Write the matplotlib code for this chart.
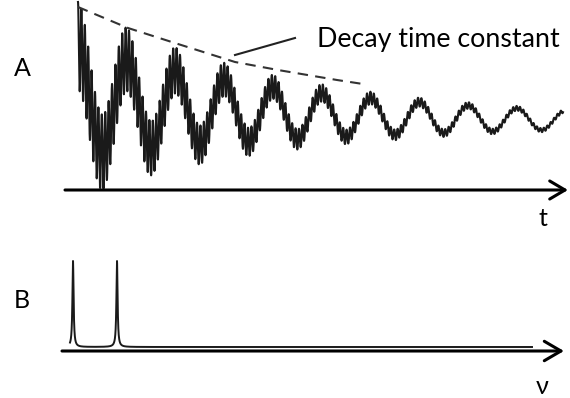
import numpy as np
import matplotlib
matplotlib.use("Agg")
import matplotlib.pyplot as plt

plt.rcParams["font.family"] = ["Lato", "DejaVu Sans"]

# panel A: decaying signal (two damped cosines on a drifting baseline)
comp_amp = [54, 44]          # slow, fast
comp_period = [48.8, 3.4]
comp_tau = [280, 150]
base_level = 68
base_drift = [22, 200]       # extra offset, its decay time
t_end = 485

# dashed decay envelope
env_t = [0, 50, 100, 157, 200, 259, 285]
env_v = [183, 162, 146, 128, 120, 110, 106]

# panel B: spectrum with two narrow lines
peak_nu = [11, 55]
peak_h = [86, 86]
peak_hw = 0.7
spec_base = 4
spec_range = [8, 470]

W, H = 570, 398
fig = plt.figure(figsize=(W / 100, H / 100), dpi=100)

# --- A ---
axA = fig.add_axes([65 / W, (H - 200) / H, 505 / W, 200 / H])
axA.set_xlim(-13, 492)
axA.set_ylim(-10, 190)
axA.axis("off")

t = np.linspace(0, t_end, 12000)
sig = base_level + base_drift[0] * np.exp(-t / base_drift[1])
for a, p, tau in zip(comp_amp, comp_period, comp_tau):
    sig = sig + a * np.exp(-t / tau) * np.cos(2 * np.pi * t / p)
axA.plot(t, sig, color="#1a1a1a", lw=1.5)
axA.plot(env_t, env_v, color="#333333", lw=1.5, ls=(0, (5, 3.5)))
axA.annotate("", xy=(490, 0), xytext=(-13, 0),
             arrowprops=dict(arrowstyle="->,head_length=11,head_width=6.5",
                             mutation_scale=1, lw=2.2, color="black",
                             shrinkA=0, shrinkB=0))
axA.plot([157, 217], [135, 152], color="#222222", lw=1.5)
axA.text(239, 143, "Decay time constant", fontsize=19.3, va="baseline", ha="left")

# --- B ---
axB = fig.add_axes([62 / W, (H - 360) / H, 508 / W, 120 / H])
axB.set_xlim(0, 508)
axB.set_ylim(-9, 111)
axB.axis("off")

nu = np.linspace(spec_range[0], spec_range[1], 8000)
spec = np.full_like(nu, spec_base, dtype=float)
for n0, h in zip(peak_nu, peak_h):
    spec += h * peak_hw ** 2 / ((nu - n0) ** 2 + peak_hw ** 2)
axB.plot(nu, spec, color="#1a1a1a", lw=1.4)
axB.annotate("", xy=(502, 0), xytext=(0, 0),
             arrowprops=dict(arrowstyle="->,head_length=12,head_width=7",
                             mutation_scale=1, lw=2.2, color="black",
                             shrinkA=0, shrinkB=0))

# panel letters and axis names
fig.text(22 / W, 1 - 69 / H, "A", fontsize=18, ha="center", va="center")
fig.text(22 / W, 1 - 301 / H, "B", fontsize=18, ha="center", va="center")
fig.text(543 / W, 1 - 218 / H, "t", fontsize=18, ha="center", va="center")
fig.text(542 / W, 1 - 387 / H, "ν", fontsize=18, ha="center", va="center")

fig.savefig("out.png", dpi=100)
